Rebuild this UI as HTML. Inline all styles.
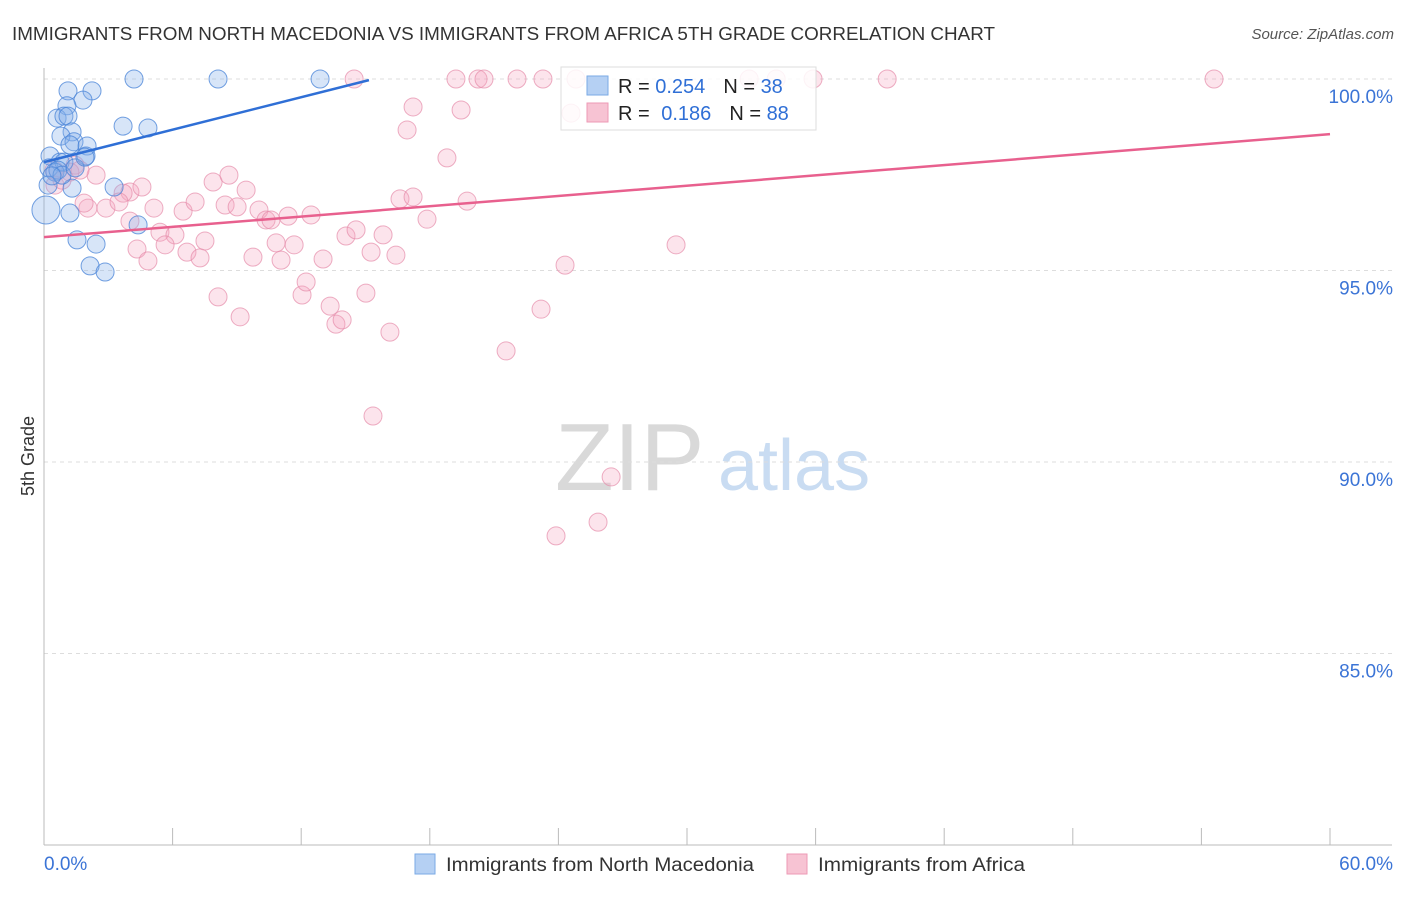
<!DOCTYPE html>
<html><head><meta charset="utf-8">
<style>
body{margin:0;background:#fff;font-family:"Liberation Sans",sans-serif;}
svg text{font-family:"Liberation Sans",sans-serif;}
</style></head>
<body>
<svg id="chart" width="1406" height="892" xmlns="http://www.w3.org/2000/svg">
<text x="12" y="40" font-size="18" fill="#333" textLength="983" lengthAdjust="spacingAndGlyphs">IMMIGRANTS FROM NORTH MACEDONIA VS IMMIGRANTS FROM AFRICA 5TH GRADE CORRELATION CHART</text>
<text x="1394" y="39" font-size="15" fill="#555" font-style="italic" text-anchor="end">Source: ZipAtlas.com</text>
<text x="34" y="456" font-size="18" fill="#333" transform="rotate(-90 34 456)" text-anchor="middle">5th Grade</text>
<g>
<text x="555" y="490" font-size="96" fill="#d9d9d9" font-family="Liberation Serif,serif">ZIP</text>
<text x="718" y="490" font-size="72" fill="#c9dcf2">atlas</text>
</g>
<g id="grid"></g>
<g id="axes"></g>
<g id="marks"></g>
<g>
<rect x="561" y="67" width="255" height="63" fill="#fff" fill-opacity="0.85" stroke="#ddd"/>
<rect x="587" y="76" width="21" height="19" fill="#b5d0f3" stroke="#7aaae6"/>
<text x="618" y="93" font-size="20" fill="#222">R = <tspan fill="#2f6fd6">0.254</tspan><tspan dx="18">N = </tspan><tspan fill="#2f6fd6">38</tspan></text>
<rect x="587" y="103" width="21" height="19" fill="#f7c3d3" stroke="#ee9ab6"/>
<text x="618" y="120" font-size="20" fill="#222">R = <tspan dx="6" fill="#2f6fd6">0.186</tspan><tspan dx="18">N = </tspan><tspan fill="#2f6fd6">88</tspan></text>
</g>
<g>
<rect x="415" y="854" width="20" height="20" fill="#b5d0f3" stroke="#7aaae6"/>
<text x="446" y="871" font-size="19" fill="#333" textLength="308" lengthAdjust="spacingAndGlyphs">Immigrants from North Macedonia</text>
<rect x="787" y="854" width="20" height="20" fill="#f7c3d3" stroke="#ee9ab6"/>
<text x="818" y="871" font-size="19" fill="#333" textLength="207" lengthAdjust="spacingAndGlyphs">Immigrants from Africa</text>
</g>
</svg>
<script>
const blueX=[4.20,8.12,12.88,1.12,2.24,1.82,1.07,0.61,0.93,1.12,4.85,3.69,1.31,0.79,1.40,1.21,2.01,1.96,0.28,0.75,0.23,0.93,0.51,0.19,1.31,3.27,0.09,1.21,4.39,1.54,2.43,2.15,2.85,0.65,0.84,0.37,1.45,1.91];
const blueY=[100,100,100,99.69,99.69,99.45,99.30,98.98,99.03,99.03,98.72,98.77,98.62,98.51,98.36,98.28,98.25,97.99,97.99,97.83,97.68,97.83,97.57,97.23,97.15,97.18,96.58,96.50,96.19,95.80,95.69,95.12,94.96,97.62,97.49,97.47,97.68,97.96];
const pinkX=[14.47,19.22,20.25,20.53,22.07,23.28,24.82,32.90,34.16,35.88,39.34,54.59,17.22,19.46,16.94,18.80,24.59,2.43,0.51,1.45,0.47,1.21,1.68,0.84,4.01,4.57,3.69,2.89,2.05,1.87,3.50,5.13,6.49,7.05,7.89,8.63,9.43,8.45,9.01,10.03,10.36,10.59,11.39,12.46,16.61,17.22,19.74,17.87,4.01,5.41,6.11,7.51,4.34,5.65,6.67,7.28,4.85,9.75,10.83,11.67,11.06,13.02,14.09,14.56,15.82,15.26,16.42,24.31,29.49,8.12,9.15,12.04,12.23,13.35,13.62,13.91,15.02,16.14,21.56,23.19,15.35,26.46,25.85,23.89];
const pinkY=[100,100,100,100,100,100,100,100,100,100,100,100,99.27,99.19,98.67,97.94,99.11,97.49,97.23,97.75,97.62,97.57,97.62,97.36,97.05,97.18,97.02,96.63,96.63,96.76,96.79,96.63,96.55,96.79,97.31,97.49,97.10,96.71,96.66,96.58,96.32,96.32,96.42,96.45,96.87,96.92,96.81,96.34,96.29,96.00,95.93,95.77,95.56,95.67,95.48,95.33,95.25,95.35,95.72,95.67,95.27,95.30,95.90,96.06,95.93,95.48,95.40,95.14,95.67,94.31,93.79,94.36,94.70,94.07,93.60,93.71,94.41,93.39,92.90,93.99,91.20,89.61,88.43,88.07];
const blueTrend=[0,97.83,15.16,99.97];
const pinkTrend=[0,95.87,60,98.56];
const yTicks=[100,95,90,85];
const yTickLabels=["100.0%","95.0%","90.0%","85.0%"];
const xTickVals=[0,6,12,18,24,30,36,42,48,54,60];

const NS="http://www.w3.org/2000/svg";
const X0=44,X1=1330,Y100=79,PX5=191.5;
function sx(v){return X0+(v/60)*(X1-X0);}
function sy(v){return Y100+(100-v)/5*PX5;}
function mk(tag,attrs,parent){const e=document.createElementNS(NS,tag);for(const k in attrs)e.setAttribute(k,attrs[k]);parent.appendChild(e);return e;}
const grid=document.getElementById('grid'),axes=document.getElementById('axes'),marks=document.getElementById('marks');
yTicks.forEach((t,i)=>{
 const l=mk('line',{x1:X0,x2:1392,y1:sy(t),y2:sy(t),stroke:'#ddd','stroke-dasharray':'4,4'},grid);
 
 
 const tx=mk('text',{x:1393,y:sy(t)+24,'font-size':19,fill:'#3b74d6','text-anchor':'end'},axes);
 tx.textContent=yTickLabels[i];
 
 
});
const ya=mk('line',{x1:X0,x2:X0,y1:68,y2:845,stroke:'#bbb'},axes);


const xa=mk('line',{x1:X0,x2:1392,y1:845,y2:845,stroke:'#bbb'},axes);


xTickVals.forEach(v=>{
 const t=mk('line',{x1:sx(v),x2:sx(v),y1:828,y2:845,stroke:'#bbb'},axes);
 
 
});
const xl0=mk('text',{x:44,y:870,'font-size':19,fill:'#3b74d6'},axes);xl0.textContent='0.0%';


const xl1=mk('text',{x:1393,y:870,'font-size':19,fill:'#3b74d6','text-anchor':'end'},axes);xl1.textContent='60.0%';



pinkX.forEach((x,i)=>{
 const c=mk('circle',{cx:sx(x),cy:sy(pinkY[i]),r:9,fill:'rgba(244,165,192,0.3)',stroke:'rgba(230,140,170,0.7)','stroke-width':1},marks);
 
 
});
blueX.forEach((x,i)=>{
 const c=mk('circle',{cx:sx(x),cy:sy(blueY[i]),r:i==26?14:9,fill:'rgba(130,175,232,0.32)',stroke:'rgba(70,130,215,0.75)','stroke-width':1},marks);
 
 
});
const bl=mk('line',{x1:sx(blueTrend[0]),y1:sy(blueTrend[1]),x2:sx(blueTrend[2]),y2:sy(blueTrend[3]),stroke:'#2f6fd6','stroke-width':2.5},marks);


const pl=mk('line',{x1:sx(pinkTrend[0]),y1:sy(pinkTrend[1]),x2:sx(pinkTrend[2]),y2:sy(pinkTrend[3]),stroke:'#e8608e','stroke-width':2.5},marks);


</script>
</body></html>
